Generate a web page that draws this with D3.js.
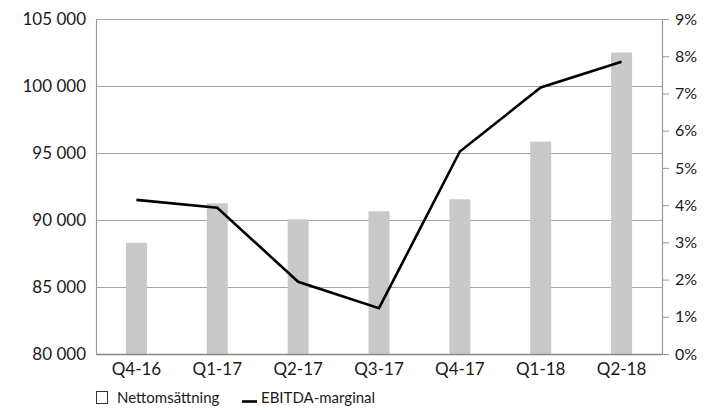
<!DOCTYPE html>
<html>
<head>
<meta charset="utf-8">
<script src="https://cdn.jsdelivr.net/npm/d3@7"></script>
<style>
  body { margin: 0; background: #fff; }
  text { font-family: "Century Gothic", Futura, Lato, sans-serif; fill: #1a1a1a; }
</style>
</head>
<body>
<svg width="708" height="410"></svg>
<script>
// data
var quarters = ["Q4-16", "Q1-17", "Q2-17", "Q3-17", "Q4-17", "Q1-18", "Q2-18"];
var nettoValues = [88300, 91250, 90050, 90650, 91550, 95850, 102500];
var ebitdaValues = [4.14, 3.93, 1.94, 1.23, 5.44, 7.16, 7.85];
var leftTicks = [80000, 85000, 90000, 95000, 100000, 105000];
var rightTicks = [0, 1, 2, 3, 4, 5, 6, 7, 8, 9];

var svg = d3.select("svg");
var margin = {top: 19, right: 46, bottom: 56, left: 96};
var width = 708 - margin.left - margin.right,
    height = 410 - margin.top - margin.bottom;

var g = svg.append("g")
    .attr("transform", "translate(" + margin.left + "," + margin.top + ")");

var x = d3.scaleBand().domain(quarters).range([0, width]);
var yLeft = d3.scaleLinear().domain([80000, 105000]).range([height, 0]);
var yRight = d3.scaleLinear().domain([0, 9]).range([height, 0]);

var fmt = function(d) { return d3.format(",")(d).replace(",", " "); };

// gridlines
g.append("g")
    .selectAll("line")
    .data(leftTicks)
    .enter()
    .append("line")
    .attr("x1", 0)
    .attr("x2", width)
    .attr("y1", function(d) { return Math.round(yLeft(d)) + 0.5; })
    .attr("y2", function(d) { return Math.round(yLeft(d)) + 0.5; })
    .attr("stroke", "#a6a6a6")
    .attr("stroke-width", 1);

// bars
var barW = 21;
g.append("g")
    .selectAll("rect")
    .data(nettoValues)
    .enter()
    .append("rect")
    .attr("x", function(d, i) { return x(quarters[i]) + x.bandwidth() / 2 - barW / 2; })
    .attr("y", function(d) { return yLeft(d); })
    .attr("width", barW)
    .attr("height", function(d) { return height - yLeft(d); })
    .attr("fill", "#c8c9c8");

// left axis
var leftAxis = g.append("g")
    .call(d3.axisLeft(yLeft).tickValues(leftTicks).tickFormat(fmt).tickSize(0).tickPadding(10));
leftAxis.select(".domain").attr("stroke", "#999").attr("stroke-width", 1.2);
leftAxis.selectAll("text").style("font-size", "17px").attr("fill", "#1a1a1a");

// right axis
var rightAxis = g.append("g")
    .attr("transform", "translate(" + width + ",0)")
    .call(d3.axisRight(yRight).tickValues(rightTicks).tickFormat(function(d) { return d + "%"; }).tickSizeOuter(0).tickSize(7).tickPadding(6));
rightAxis.select(".domain").attr("stroke", "#999").attr("stroke-width", 1.2);
rightAxis.selectAll(".tick line").attr("stroke", "#999");
rightAxis.selectAll("text").style("font-size", "16px").attr("fill", "#1a1a1a");

// bottom axis
var bottomAxis = g.append("g")
    .attr("transform", "translate(0," + height + ")")
    .call(d3.axisBottom(x).tickSize(0).tickPadding(9));
bottomAxis.select(".domain").attr("stroke", "#888").attr("stroke-width", 1.5);
bottomAxis.selectAll("text").style("font-size", "17px").attr("fill", "#1a1a1a");

// ebitda line
var line = d3.line()
    .x(function(d, i) { return x(quarters[i]) + x.bandwidth() / 2; })
    .y(function(d) { return yRight(d); });

g.append("path")
    .datum(ebitdaValues)
    .attr("d", line)
    .attr("fill", "none")
    .attr("stroke", "#000")
    .attr("stroke-width", 2.6)
    .attr("stroke-linejoin", "miter");

// legend
var legend = svg.append("g").attr("transform", "translate(0,398)");
legend.append("rect")
    .attr("x", 96.5).attr("y", -6.5)
    .attr("width", 11).attr("height", 12)
    .attr("fill", "#fff")
    .attr("stroke", "#333")
    .attr("stroke-width", 1);
legend.append("text")
    .attr("x", 117).attr("y", 5)
    .style("font-size", "15px")
    .attr("fill", "#333")
    .text("Nettomsättning");
legend.append("line")
    .attr("x1", 242).attr("x2", 257)
    .attr("y1", 3.5).attr("y2", 3.5)
    .attr("stroke", "#000")
    .attr("stroke-width", 2.6);
legend.append("text")
    .attr("x", 261).attr("y", 5)
    .style("font-size", "15px")
    .attr("fill", "#333")
    .text("EBITDA-marginal");
</script>
</body>
</html>
